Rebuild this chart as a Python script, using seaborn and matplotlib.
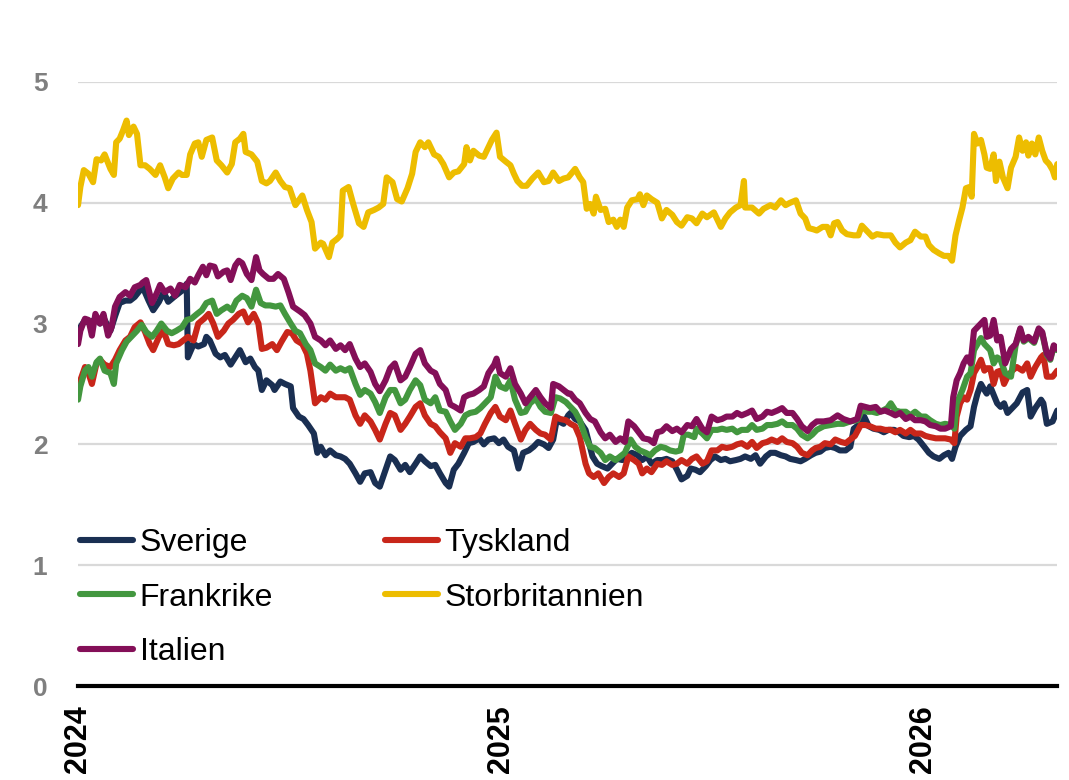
import pandas as pd
import matplotlib
matplotlib.use("Agg")
import matplotlib.pyplot as plt
from matplotlib.lines import Line2D
import seaborn as sns

# ------------------------------------------------------------
# Data: dagar efter 2024-01-01 och värde (procent)
# ------------------------------------------------------------
start = pd.Timestamp("2024-01-01")

se_day = [0, 2, 6, 10, 15, 19, 23, 28, 32, 36, 41, 45, 49, 54, 56, 61, 65, 70, 74, 78, 83, 87, 91, 94, 95,
          100, 104, 109, 111, 114, 119, 123, 127, 132, 136, 140, 145, 149, 153, 156, 159, 163, 168, 170,
          175, 179, 184, 186, 191, 195, 199, 204, 207,
          210, 214, 218, 223, 227, 231, 235, 240, 244, 248, 253, 257, 261, 266, 270, 274, 279, 283, 287,
          292, 296, 300, 305, 309, 313, 318, 321, 325, 329, 334, 338, 342, 347, 351, 355, 360, 364, 368,
          372, 377, 381, 385, 390, 394, 398, 403, 407, 411, 414, 420, 424,
          426, 430, 434, 439, 442, 445, 449, 453, 458, 462, 466, 471, 475, 479, 484, 488, 492, 496, 501,
          505, 509, 514, 518, 522, 527, 530, 534, 538, 543, 547, 551, 556, 560, 564, 569, 573, 577, 582,
          586, 590, 595, 599, 603, 608, 612, 616, 621, 625, 629, 634,
          638, 642, 646, 651, 655, 659, 664, 668, 671, 675, 680, 684, 688, 693, 697, 701, 706, 710, 714,
          719, 723, 727, 732, 736, 740, 745, 749, 753, 756, 759, 763, 768, 772, 775, 778, 781, 784, 786,
          789, 792, 795, 798, 801, 804, 808, 812, 817, 821, 824, 828, 833, 835, 838, 843, 847]
se_val = [2.89, 2.97, 3.03, 3.00, 3.04, 3.00, 3.03, 2.94, 3.06, 3.17, 3.19, 3.19, 3.22, 3.28, 3.30, 3.19,
          3.11, 3.18, 3.26, 3.18, 3.22, 3.25, 3.28, 3.33, 2.72, 2.83, 2.81, 2.83, 2.89, 2.86, 2.75, 2.72,
          2.74, 2.66, 2.72, 2.78, 2.68, 2.71, 2.64, 2.61, 2.45, 2.53, 2.49, 2.45, 2.52, 2.50, 2.48, 2.30,
          2.23, 2.21, 2.16, 2.09, 1.93,
          1.98, 1.91, 1.95, 1.91, 1.90, 1.88, 1.84, 1.76, 1.69, 1.76, 1.77, 1.68, 1.65, 1.79, 1.90, 1.87,
          1.79, 1.83, 1.77, 1.84, 1.90, 1.86, 1.82, 1.83, 1.76, 1.68, 1.65, 1.79, 1.84, 1.93, 2.01, 2.02,
          2.05, 2.00, 2.04, 2.05, 2.01, 2.04, 1.98, 1.95, 1.80, 1.93, 1.95, 1.98, 2.02, 2.00, 1.97, 2.04,
          2.20, 2.17, 2.24,
          2.26, 2.21, 2.19, 2.12, 2.01, 1.90, 1.84, 1.82, 1.80, 1.84, 1.88, 1.87, 1.90, 1.93, 1.91, 1.87,
          1.90, 1.84, 1.87, 1.87, 1.88, 1.86, 1.79, 1.71, 1.74, 1.80, 1.79, 1.77, 1.82, 1.87, 1.90, 1.87,
          1.88, 1.86, 1.87, 1.88, 1.90, 1.88, 1.91, 1.84, 1.90, 1.93, 1.93, 1.91, 1.90, 1.88, 1.87, 1.86,
          1.88, 1.91,
          1.93, 1.94, 1.97, 1.98, 1.97, 1.95, 1.95, 1.98, 2.13, 2.16, 2.23, 2.15, 2.13, 2.12, 2.10, 2.12,
          2.12, 2.10, 2.07, 2.06, 2.07, 2.04, 1.98, 1.93, 1.90, 1.88, 1.91, 1.93, 1.88, 1.98, 2.07, 2.12,
          2.15, 2.31, 2.42, 2.50, 2.45, 2.42, 2.48, 2.41, 2.34, 2.31, 2.34, 2.26, 2.30, 2.34, 2.43, 2.45,
          2.23, 2.30, 2.37, 2.34, 2.17, 2.19, 2.28]

de_day = [0, 2, 6, 9, 12, 16, 19, 23, 28, 32, 36, 41, 45, 49, 54, 58, 62, 65, 70, 74, 78, 83, 87, 91, 95,
          100, 104, 109, 113, 117, 121, 126, 130, 134, 139, 143, 147, 152, 156, 159, 163, 168, 172, 176,
          181, 185, 189, 194, 198, 201, 205,
          210, 214, 218, 223, 227, 231, 235, 240, 244, 248, 253, 257, 261, 266, 270, 274, 279, 283, 287,
          292, 296, 300, 305, 309, 313, 318, 322, 326, 331, 335, 339, 344, 348, 352, 357, 361, 365, 370,
          374, 378, 383, 387, 391, 396, 400, 404, 409, 413, 417, 422,
          426, 430, 434, 439, 442, 446, 450, 455, 459, 463, 468, 472, 476, 481, 485, 488, 492, 496, 501,
          505, 509, 514, 518, 522, 527, 531, 535, 540, 544, 548, 553, 557, 561, 566, 570, 574, 579, 583,
          587, 592, 596, 600, 605, 609, 613, 618, 622, 626, 631, 635,
          638, 642, 646, 651, 655, 660, 664, 668, 672, 677, 681, 685, 690, 694, 698, 703, 707, 711, 716,
          720, 724, 729, 733, 737, 742, 746, 750, 755, 758, 760, 763, 766, 769, 772, 775, 778, 781, 784,
          786, 789, 792, 795, 798, 801, 804, 808, 812, 817, 821, 824, 828, 833, 835, 838, 843, 847]
de_val = [2.44, 2.53, 2.64, 2.59, 2.50, 2.67, 2.70, 2.66, 2.64, 2.70, 2.78, 2.86, 2.89, 2.97, 3.01, 2.93,
          2.83, 2.78, 2.89, 2.94, 2.83, 2.82, 2.83, 2.86, 2.89, 2.86, 3.00, 3.04, 3.08, 3.00, 2.89, 2.94,
          3.00, 3.03, 3.08, 3.10, 3.01, 3.08, 3.00, 2.79, 2.80, 2.83, 2.78, 2.85, 2.93, 2.92, 2.86, 2.83,
          2.75, 2.61, 2.34,
          2.39, 2.37, 2.42, 2.39, 2.39, 2.39, 2.37, 2.24, 2.17, 2.24, 2.19, 2.12, 2.04, 2.17, 2.26, 2.24,
          2.12, 2.17, 2.23, 2.31, 2.34, 2.24, 2.17, 2.15, 2.10, 2.05, 1.93, 2.01, 1.98, 2.05, 2.05, 2.06,
          2.09, 2.17, 2.26, 2.31, 2.23, 2.20, 2.28, 2.17, 2.04, 2.12, 2.17, 2.12, 2.09, 2.08, 2.04, 2.23,
          2.21, 2.20,
          2.17, 2.15, 2.06, 1.84, 1.76, 1.73, 1.76, 1.68, 1.73, 1.76, 1.73, 1.76, 1.90, 1.87, 1.84, 1.76,
          1.80, 1.77, 1.84, 1.83, 1.86, 1.83, 1.84, 1.87, 1.84, 1.88, 1.90, 1.84, 1.86, 1.95, 1.95, 1.98,
          1.97, 1.98, 2.00, 2.01, 1.98, 2.02, 1.97, 2.01, 2.02, 2.04, 2.02, 2.05, 2.02, 2.01, 1.98, 1.93,
          1.91, 1.95,
          1.97, 1.98, 2.01, 2.00, 2.04, 2.02, 2.01, 2.04, 2.07, 2.16, 2.16, 2.15, 2.13, 2.13, 2.12, 2.12,
          2.10, 2.12, 2.09, 2.12, 2.09, 2.09, 2.07, 2.06, 2.05, 2.05, 2.05, 2.04, 2.01, 2.23, 2.34, 2.39,
          2.37, 2.45, 2.59, 2.64, 2.70, 2.61, 2.63, 2.63, 2.50, 2.60, 2.61, 2.50, 2.56, 2.61, 2.64, 2.61,
          2.67, 2.56, 2.64, 2.72, 2.74, 2.56, 2.56, 2.61]

fr_day = [0, 2, 6, 9, 12, 16, 19, 23, 28, 31, 33, 38, 42, 46, 51, 55, 59, 64, 68, 72, 77, 81, 85, 90, 94,
          98, 103, 107, 111, 116, 120, 124, 129, 133, 137, 142, 146, 150, 154, 158, 162, 166, 171, 175,
          179, 184, 188, 192, 197, 201, 205,
          210, 214, 218, 223, 227, 231, 235, 240, 244, 248, 253, 257, 261, 266, 270, 274, 279, 283, 287,
          292, 296, 300, 305, 309, 313, 318, 322, 326, 331, 335, 339, 344, 348, 352, 357, 361, 365, 370,
          374, 378, 383, 387, 391, 396, 400, 404, 409, 413, 417, 422,
          426, 430, 434, 439, 443, 447, 452, 456, 460, 465, 469, 473, 478, 482, 486, 491, 495, 499, 504,
          508, 512, 517, 521, 524, 528, 533, 535, 540, 544, 548, 553, 557, 561, 566, 570, 574, 579, 583,
          587, 592, 596, 600, 605, 609, 613, 618, 622, 626, 631, 635,
          639, 645, 651, 657, 662, 668, 674, 678, 683, 687, 691, 696, 700, 703, 707, 711, 716, 720, 724,
          729, 733, 737, 742, 746, 750, 755, 758, 760, 765, 769, 772, 775, 778, 781, 784, 786, 789, 792,
          795, 798, 802, 807, 811, 815, 818, 822, 827, 831, 834, 838, 841, 844, 847]
fr_val = [2.37, 2.48, 2.61, 2.64, 2.56, 2.68, 2.71, 2.61, 2.59, 2.50, 2.67, 2.78, 2.85, 2.89, 2.94, 2.99,
          2.93, 2.89, 2.94, 3.00, 2.94, 2.92, 2.94, 2.97, 3.03, 3.04, 3.08, 3.11, 3.17, 3.19, 3.08, 3.11,
          3.14, 3.11, 3.19, 3.23, 3.21, 3.14, 3.28, 3.17, 3.15, 3.15, 3.14, 3.15, 3.08, 3.00, 2.94, 2.92,
          2.83, 2.78, 2.67,
          2.64, 2.61, 2.66, 2.61, 2.63, 2.61, 2.63, 2.50, 2.41, 2.45, 2.42, 2.35, 2.26, 2.39, 2.45, 2.45,
          2.34, 2.37, 2.45, 2.53, 2.49, 2.37, 2.34, 2.39, 2.28, 2.27, 2.19, 2.12, 2.17, 2.24, 2.26, 2.27,
          2.30, 2.34, 2.39, 2.56, 2.48, 2.46, 2.53, 2.37, 2.26, 2.27, 2.34, 2.38, 2.31, 2.27, 2.26, 2.39,
          2.38, 2.35,
          2.31, 2.27, 2.20, 2.06, 1.98, 1.97, 1.93, 1.87, 1.90, 1.87, 1.90, 1.93, 2.04, 1.98, 1.95, 1.93,
          1.91, 1.95, 1.98, 1.97, 1.95, 1.94, 1.95, 2.08, 2.08, 2.06, 2.13, 2.09, 2.05, 2.12, 2.12, 2.13,
          2.12, 2.13, 2.10, 2.12, 2.12, 2.16, 2.12, 2.13, 2.16, 2.16, 2.17, 2.19, 2.16, 2.16, 2.13, 2.08,
          2.05, 2.08,
          2.12, 2.15, 2.16, 2.17, 2.17, 2.19, 2.20, 2.28, 2.27, 2.27, 2.26, 2.28, 2.30, 2.34, 2.28, 2.27,
          2.27, 2.24, 2.27, 2.23, 2.23, 2.20, 2.17, 2.16, 2.17, 2.16, 2.13, 2.34, 2.45, 2.56, 2.59, 2.78,
          2.83, 2.88, 2.83, 2.81, 2.78, 2.67, 2.72, 2.70, 2.59, 2.56, 2.82, 2.95, 2.85, 2.88, 2.84, 2.95,
          2.92, 2.74, 2.70, 2.81, 2.78]

uk_day = [0, 2, 5, 9, 13, 16, 20, 23, 28, 31, 33, 36, 39, 42, 44, 48, 51, 54, 58, 62, 67, 71, 75, 78, 82,
          87, 90, 94, 97, 101, 104, 107, 111, 116, 120, 124, 129, 133, 136, 140, 143, 145, 150, 155, 159,
          163, 166, 171, 175, 179, 183, 188, 194, 198, 202, 205,
          210, 212, 217, 220, 224, 227, 229, 234, 238, 243, 247, 251, 256, 260, 264, 267, 272, 276, 280,
          285, 289, 292, 296, 300, 303, 308, 312, 316, 321, 325, 329, 334, 336, 339, 342, 347, 351, 355,
          358, 362, 365, 370, 374, 377, 380, 384, 388, 393, 398, 403, 407, 411, 416, 420, 424,
          430, 434, 437, 440, 443, 446, 448, 452, 456, 459, 463, 466, 469, 472, 475, 479, 484, 486, 489,
          492, 496, 501, 505, 509, 514, 518, 522, 527, 531, 535, 540, 544, 550, 556, 560, 564, 569, 573,
          576, 577, 583, 589, 593, 599, 603, 608, 612, 616, 621, 625, 629, 632, 636,
          639, 644, 648, 651, 654, 657, 661, 665, 671, 675, 678, 683, 687, 691, 697, 703, 707, 711, 716,
          720, 724, 729, 733, 736, 740, 745, 749, 753, 756, 759, 762, 765, 768, 771, 773, 775, 778, 781,
          784, 786, 789, 792, 794, 797, 800, 804, 807, 811, 814, 817, 820, 822, 825, 828, 831, 834, 837,
          840, 843, 845, 847]
uk_val = [3.98, 4.13, 4.27, 4.24, 4.17, 4.36, 4.35, 4.40, 4.28, 4.23, 4.50, 4.53, 4.60, 4.68, 4.56, 4.63,
          4.57, 4.31, 4.31, 4.28, 4.23, 4.31, 4.21, 4.12, 4.20, 4.25, 4.23, 4.23, 4.40, 4.49, 4.50, 4.38,
          4.52, 4.54, 4.35, 4.31, 4.25, 4.32, 4.50, 4.53, 4.57, 4.42, 4.40, 4.34, 4.18, 4.16, 4.18, 4.25,
          4.18, 4.13, 4.12, 3.98, 4.06, 3.94, 3.84, 3.62,
          3.67, 3.66, 3.55, 3.67, 3.70, 3.73, 4.10, 4.13, 3.99, 3.83, 3.80, 3.92, 3.94, 3.96, 3.99, 4.21,
          4.17, 4.03, 4.01, 4.12, 4.24, 4.42, 4.50, 4.46, 4.50, 4.40, 4.38, 4.32, 4.21, 4.25, 4.26, 4.32,
          4.46, 4.35, 4.43, 4.39, 4.38, 4.46, 4.52, 4.58, 4.38, 4.34, 4.31, 4.24, 4.18, 4.14, 4.14, 4.20,
          4.25, 4.17, 4.18, 4.25, 4.18, 4.20, 4.21,
          4.28, 4.21, 4.17, 3.95, 3.99, 3.91, 4.05, 3.94, 3.95, 3.84, 3.86, 3.80, 3.86, 3.80, 3.96, 4.02,
          4.03, 4.07, 3.98, 4.06, 4.03, 4.00, 3.87, 3.94, 3.90, 3.84, 3.81, 3.88, 3.87, 3.83, 3.91, 3.88,
          3.92, 3.80, 3.87, 3.92, 3.96, 3.98, 4.18, 3.96, 3.96, 3.91, 3.95, 3.98, 3.96, 4.02, 3.98, 4.00,
          4.02, 3.91, 3.87, 3.79, 3.78,
          3.77, 3.80, 3.80, 3.73, 3.83, 3.84, 3.77, 3.74, 3.73, 3.73, 3.81, 3.76, 3.72, 3.74, 3.73, 3.73,
          3.67, 3.63, 3.67, 3.69, 3.76, 3.72, 3.72, 3.65, 3.61, 3.58, 3.56, 3.56, 3.52, 3.73, 3.85, 3.96,
          4.12, 4.13, 4.05, 4.57, 4.49, 4.52, 4.40, 4.29, 4.28, 4.40, 4.18, 4.34, 4.21, 4.12, 4.29, 4.38,
          4.54, 4.43, 4.50, 4.39, 4.49, 4.40, 4.54, 4.43, 4.35, 4.32, 4.27, 4.21, 4.32]

it_day = [0, 2, 6, 9, 12, 15, 19, 22, 26, 29, 32, 36, 41, 45, 49, 54, 56, 59, 64, 68, 71, 75, 80, 84, 88,
          93, 97, 101, 104, 108, 111, 114, 118, 121, 126, 129, 132, 136, 139, 142, 146, 150, 154, 157,
          160, 165, 169, 173, 178, 182, 186, 192, 196, 201, 205,
          210, 214, 218, 223, 227, 231, 235, 240, 244, 248, 253, 257, 261, 266, 270, 274, 279, 283, 287,
          292, 296, 300, 305, 309, 313, 318, 322, 326, 331, 334, 338, 342, 347, 351, 355, 360, 362, 365,
          370, 374, 378, 383, 387, 391, 396, 400, 404, 409, 411, 416, 420, 424,
          426, 430, 434, 439, 443, 447, 452, 456, 460, 465, 469, 473, 476, 481, 485, 489, 494, 498, 501,
          505, 509, 514, 518, 522, 527, 531, 535, 540, 544, 548, 553, 557, 561, 566, 570, 574, 579, 583,
          587, 592, 596, 600, 605, 609, 613, 618, 622, 626, 631, 635,
          639, 645, 651, 657, 662, 668, 674, 677, 681, 685, 690, 694, 698, 703, 707, 711, 716, 720, 724,
          729, 733, 737, 742, 746, 750, 755, 757, 760, 763, 766, 769, 772, 775, 778, 781, 784, 786, 789,
          792, 795, 798, 802, 807, 811, 815, 818, 822, 827, 831, 834, 838, 841, 844, 847]
it_val = [2.83, 2.94, 3.04, 3.03, 2.90, 3.08, 3.00, 3.08, 2.90, 2.97, 3.14, 3.22, 3.26, 3.23, 3.30, 3.32,
          3.34, 3.36, 3.17, 3.25, 3.32, 3.26, 3.29, 3.23, 3.32, 3.30, 3.37, 3.34, 3.40, 3.47, 3.40, 3.48,
          3.47, 3.39, 3.43, 3.44, 3.36, 3.48, 3.52, 3.50, 3.41, 3.36, 3.55, 3.44, 3.41, 3.37, 3.37, 3.41,
          3.37, 3.26, 3.14, 3.10, 3.07, 3.00, 2.89,
          2.86, 2.82, 2.86, 2.79, 2.82, 2.78, 2.83, 2.71, 2.64, 2.67, 2.60, 2.50, 2.44, 2.53, 2.63, 2.67,
          2.53, 2.56, 2.64, 2.75, 2.78, 2.67, 2.61, 2.59, 2.50, 2.45, 2.33, 2.31, 2.28, 2.39, 2.41, 2.42,
          2.45, 2.48, 2.59, 2.66, 2.71, 2.59, 2.56, 2.63, 2.50, 2.42, 2.34, 2.39, 2.45, 2.39, 2.34, 2.30,
          2.50, 2.48, 2.45, 2.42,
          2.42, 2.37, 2.34, 2.26, 2.21, 2.19, 2.10, 2.05, 2.08, 2.02, 2.05, 2.02, 2.19, 2.15, 2.10, 2.05,
          2.04, 2.01, 2.10, 2.11, 2.15, 2.11, 2.13, 2.10, 2.16, 2.15, 2.21, 2.13, 2.10, 2.23, 2.20, 2.21,
          2.23, 2.23, 2.26, 2.24, 2.26, 2.28, 2.21, 2.23, 2.27, 2.26, 2.28, 2.30, 2.26, 2.26, 2.21, 2.15,
          2.11, 2.16,
          2.19, 2.19, 2.20, 2.24, 2.21, 2.19, 2.21, 2.32, 2.31, 2.30, 2.31, 2.27, 2.28, 2.26, 2.24, 2.26,
          2.21, 2.23, 2.20, 2.20, 2.19, 2.16, 2.15, 2.13, 2.13, 2.15, 2.39, 2.53, 2.59, 2.67, 2.72, 2.67,
          2.94, 2.97, 3.00, 3.03, 2.89, 2.90, 3.03, 2.86, 2.89, 2.67, 2.79, 2.83, 2.96, 2.86, 2.89, 2.85,
          2.96, 2.93, 2.75, 2.71, 2.82, 2.79]

countries = ["Sverige", "Tyskland", "Frankrike", "Storbritannien", "Italien"]
colors = ["#1a2f52", "#c8261a", "#43973f", "#edbd00", "#840f58"]
series = {
    "Sverige": (se_day, se_val),
    "Tyskland": (de_day, de_val),
    "Frankrike": (fr_day, fr_val),
    "Storbritannien": (uk_day, uk_val),
    "Italien": (it_day, it_val),
}
year_ticks = ["2024", "2025", "2026"]

# ------------------------------------------------------------
# Bygg long-format tabell
# ------------------------------------------------------------
frames = []
for name, (d, v) in series.items():
    frames.append(pd.DataFrame({
        "date": start + pd.to_timedelta(d, unit="D"),
        "value": v,
        "country": name,
    }))
df = pd.concat(frames, ignore_index=True)

sns.set_theme(style="white")
plt.rcParams["font.family"] = ["Liberation Sans", "DejaVu Sans"]

fig = plt.figure(figsize=(10.69, 7.8), dpi=100)
ax = fig.add_axes([0.073, 0.1205, 0.916, 0.7745])

sns.lineplot(
    data=df, x="date", y="value", hue="country",
    hue_order=countries, palette=colors,
    linewidth=4.4, estimator=None, sort=True, legend=False, ax=ax,
    solid_joinstyle="round", solid_capstyle="round",
)

ax.set_ylim(0, 5)
ax.set_yticks(range(6))
ax.set_xlim(start, start + pd.Timedelta(days=847))
ax.set_xticks([pd.Timestamp(y + "-01-01") for y in year_ticks])
ax.set_xticklabels(year_ticks, rotation=90, fontsize=22, fontweight="bold", color="black")
for lbl in ax.get_yticklabels():
    lbl.set_fontweight("bold")
ax.tick_params(axis="y", labelsize=19, labelcolor="#7f7f7f", length=0, pad=22)
ax.tick_params(axis="x", length=0, pad=14)
ax.set_xlabel("")
ax.set_ylabel("")

ax.grid(axis="y", color="#d9d9d9", linewidth=1.6)
ax.grid(axis="x", visible=False)
ax.set_axisbelow(True)
for side in ["left", "right", "top"]:
    ax.spines[side].set_visible(False)
ax.spines["bottom"].set_color("black")
ax.spines["bottom"].set_linewidth(3)
ax.spines["bottom"].set_zorder(5)

# Legend: två kolumner, radvis Sverige/Tyskland, Frankrike/Storbritannien, Italien
leg_order = ["Sverige", "Frankrike", "Italien", "Tyskland", "Storbritannien"]
handles = [Line2D([0], [0], color=colors[countries.index(n)], lw=4.4, solid_capstyle="round")
           for n in leg_order]
leg = fig.legend(handles, leg_order, loc="upper left", bbox_to_anchor=(0.0748, 0.323),
                 bbox_transform=fig.transFigure, ncol=2, frameon=False, fontsize=23,
                 handlelength=1.65, handletextpad=0.22, columnspacing=3.5, labelspacing=0.77,
                 borderpad=0, borderaxespad=0)
for t in leg.get_texts():
    t.set_color("black")

fig.savefig("out.png", dpi=100)
